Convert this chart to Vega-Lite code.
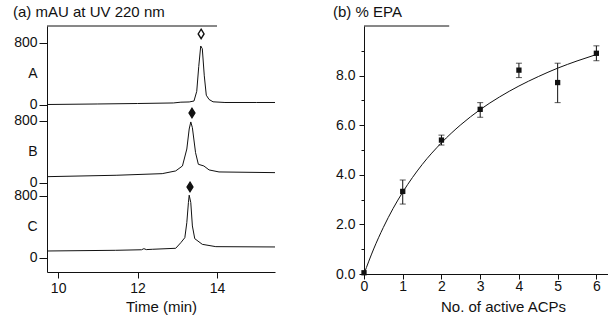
{
  "$schema": "https://vega.github.io/schema/vega-lite/v6.json",
  "padding": {"left": 13, "top": 4, "right": 0, "bottom": 2},
  "background": "white",
  "config": {
    "font": "Liberation Sans",
    "view": {"stroke": null},
    "axis": {"grid": false, "domainColor": "#111", "tickColor": "#111", "labelColor": "#111", "titleColor": "#111", "labelFontSize": 14, "titleFontSize": 15, "titleFontWeight": "normal", "tickSize": 8, "labelPadding": 2, "labelBound": false, "labelFlush": false, "labelOverlap": false},
    "title": {"fontSize": 15, "fontWeight": "normal", "color": "#111", "anchor": "start", "frame": "group"}
  },
  "hconcat": [
    {
      "width": 228,
      "height": 246,
      "title": {"text": "(a)  mAU at UV 220 nm", "dx": -34, "offset": 6, "frame": "group"},
      "layer": [
        {
          "data": {"values": [
            {"t": 9.72, "v": 1980, "trace": "A"}, {"t": 11.0, "v": 1987, "trace": "A"}, {"t": 12.0, "v": 1993, "trace": "A"}, {"t": 12.9, "v": 2000, "trace": "A"}, {"t": 13.09, "v": 2010, "trace": "A"}, {"t": 13.3, "v": 2013, "trace": "A"}, {"t": 13.42, "v": 2025, "trace": "A"}, {"t": 13.49, "v": 2150, "trace": "A"}, {"t": 13.54, "v": 2470, "trace": "A"}, {"t": 13.59, "v": 2735, "trace": "A"}, {"t": 13.63, "v": 2700, "trace": "A"}, {"t": 13.68, "v": 2350, "trace": "A"}, {"t": 13.73, "v": 2100, "trace": "A"}, {"t": 13.8, "v": 2045, "trace": "A"}, {"t": 13.9, "v": 2015, "trace": "A"}, {"t": 14.2, "v": 2006, "trace": "A"}, {"t": 15.0, "v": 2006, "trace": "A"}, {"t": 15.46, "v": 2006, "trace": "A"},
            {"t": 9.72, "v": 1049, "trace": "B"}, {"t": 11.46, "v": 1067, "trace": "B"}, {"t": 12.62, "v": 1088, "trace": "B"}, {"t": 12.96, "v": 1123, "trace": "B"}, {"t": 13.13, "v": 1187, "trace": "B"}, {"t": 13.24, "v": 1406, "trace": "B"}, {"t": 13.3, "v": 1664, "trace": "B"}, {"t": 13.34, "v": 1755, "trace": "B"}, {"t": 13.38, "v": 1681, "trace": "B"}, {"t": 13.46, "v": 1359, "trace": "B"}, {"t": 13.53, "v": 1209, "trace": "B"}, {"t": 13.67, "v": 1187, "trace": "B"}, {"t": 13.8, "v": 1136, "trace": "B"}, {"t": 14.05, "v": 1110, "trace": "B"}, {"t": 15.46, "v": 1101, "trace": "B"},
            {"t": 9.72, "v": 90, "trace": "C"}, {"t": 11.45, "v": 99, "trace": "C"}, {"t": 12.1, "v": 106, "trace": "C"}, {"t": 12.16, "v": 120, "trace": "C"}, {"t": 12.22, "v": 108, "trace": "C"}, {"t": 12.37, "v": 112, "trace": "C"}, {"t": 12.96, "v": 125, "trace": "C"}, {"t": 13.09, "v": 198, "trace": "C"}, {"t": 13.19, "v": 262, "trace": "C"}, {"t": 13.24, "v": 456, "trace": "C"}, {"t": 13.28, "v": 714, "trace": "C"}, {"t": 13.3, "v": 810, "trace": "C"}, {"t": 13.34, "v": 714, "trace": "C"}, {"t": 13.38, "v": 413, "trace": "C"}, {"t": 13.44, "v": 249, "trace": "C"}, {"t": 13.63, "v": 176, "trace": "C"}, {"t": 13.97, "v": 146, "trace": "C"}, {"t": 15.46, "v": 142, "trace": "C"}
          ]},
          "mark": {"type": "line", "color": "#111", "strokeWidth": 1, "clip": true},
          "encoding": {
            "x": {"field": "t", "type": "quantitative", "scale": {"domain": [9.72, 15.46], "nice": false}, "axis": {"values": [10, 12, 14], "tickCount": 30, "format": "d", "tickSize": 6, "labelPadding": 3, "title": "Time (min)", "titlePadding": 4}},
            "y": {"field": "v", "type": "quantitative", "scale": {"domain": [-181, 2993], "nice": false}, "axis": {
              "values": [0, 400, 800, 968, 1368, 1768, 1974, 2374, 2774],
              "tickCount": 30,
              "labelExpr": "datum.value == 400 ? 'C' : datum.value == 1368 ? 'B' : datum.value == 2374 ? 'A' : (datum.value == 0 || datum.value == 968 || datum.value == 1974) ? '0' : '800'",
              "tickOpacity": {"condition": {"test": "datum.value == 400 || datum.value == 1368 || datum.value == 2374", "value": 0}, "value": 1},
              "title": null}},
            "detail": {"field": "trace", "type": "nominal"}
          }
        },
        {
          "data": {"values": [
            {"t": 13.6, "v": 2890, "marker": "open"},
            {"t": 13.37, "v": 1870, "marker": "filled"},
            {"t": 13.32, "v": 916, "marker": "filled"}
          ]},
          "mark": {"type": "point", "shape": "M0,-1L0.62,0L0,1L-0.62,0Z", "size": 90, "stroke": "#111", "strokeWidth": 1.4, "opacity": 1, "filled": true},
          "encoding": {
            "x": {"field": "t", "type": "quantitative"},
            "y": {"field": "v", "type": "quantitative"},
            "fill": {"field": "marker", "type": "nominal", "scale": {"domain": ["open", "filled"], "range": ["white", "#111"]}, "legend": null}
          }
        },
        {
          "data": {"values": [{"t1": 9.72, "t2": 14.0, "v": 2993}]},
          "mark": {"type": "rule", "color": "#111", "strokeWidth": 1},
          "encoding": {
            "x": {"field": "t1", "type": "quantitative"},
            "x2": {"field": "t2"},
            "y": {"field": "v", "type": "quantitative"}
          }
        }
      ]
    },
    {
      "width": 244,
      "height": 248,
      "title": {"text": "(b) % EPA", "dx": -31, "offset": 6, "frame": "group"},
      "layer": [
        {
          "data": {"values": [
            {"n": 0, "pct": 0}, {"n": 0.25, "pct": 1.01}, {"n": 0.5, "pct": 1.88}, {"n": 0.75, "pct": 2.64}, {"n": 1, "pct": 3.3}, {"n": 1.5, "pct": 4.41}, {"n": 2, "pct": 5.29}, {"n": 2.5, "pct": 6.02}, {"n": 3, "pct": 6.63}, {"n": 3.5, "pct": 7.14}, {"n": 4, "pct": 7.58}, {"n": 4.5, "pct": 7.96}, {"n": 5, "pct": 8.3}, {"n": 5.5, "pct": 8.59}, {"n": 6, "pct": 8.85}
          ]},
          "mark": {"type": "line", "color": "#111", "strokeWidth": 1, "interpolate": "monotone"},
          "encoding": {
            "x": {"field": "n", "type": "quantitative", "scale": {"domain": [0, 6.3], "nice": false}, "axis": {
              "values": [0, 0.5, 1, 1.5, 2, 2.5, 3, 3.5, 4, 4.5, 5, 5.5, 6],
              "tickCount": 30,
              "format": "d",
              "labelExpr": "datum.value % 1 == 0 ? datum.label : ''",
              "tickSize": {"condition": {"test": "datum.value % 1 == 0", "value": 5}, "value": 3},
              "labelPadding": 0,
              "title": "No. of active ACPs", "titlePadding": 6, "titleX": 139}},
            "y": {"field": "pct", "type": "quantitative", "scale": {"domain": [0, 10], "nice": false}, "axis": {
              "values": [0, 1, 2, 3, 4, 5, 6, 7, 8, 9],
              "tickCount": 30,
              "format": ".1f",
              "labelExpr": "datum.value % 2 == 0 ? datum.label : ''",
              "tickSize": {"condition": {"test": "datum.value % 2 == 0", "value": 5}, "value": 3},
              "labelPadding": 4,
              "title": null}}
          }
        },
        {
          "data": {"name": "pts"},
          "transform": [{"filter": "datum.lo != null"}],
          "layer": [
            {
              "mark": {"type": "rule", "color": "#111", "strokeWidth": 1},
              "encoding": {
                "x": {"field": "n", "type": "quantitative"},
                "y": {"field": "lo", "type": "quantitative"},
                "y2": {"field": "hi"}
              }
            },
            {
              "mark": {"type": "tick", "orient": "horizontal", "color": "#111", "size": 6, "thickness": 1},
              "encoding": {
                "x": {"field": "n", "type": "quantitative"},
                "y": {"field": "lo", "type": "quantitative"}
              }
            },
            {
              "mark": {"type": "tick", "orient": "horizontal", "color": "#111", "size": 6, "thickness": 1},
              "encoding": {
                "x": {"field": "n", "type": "quantitative"},
                "y": {"field": "hi", "type": "quantitative"}
              }
            }
          ]
        },
        {
          "data": {"name": "pts"},
          "mark": {"type": "point", "shape": "square", "filled": true, "size": 28, "color": "#111", "opacity": 1},
          "encoding": {
            "x": {"field": "n", "type": "quantitative"},
            "y": {"field": "pct", "type": "quantitative"}
          }
        },
        {
          "data": {"values": [{"a": 0, "b": 2.2, "y": 10}]},
          "mark": {"type": "rule", "color": "#111", "strokeWidth": 1},
          "encoding": {
            "x": {"field": "a", "type": "quantitative"},
            "x2": {"field": "b"},
            "y": {"field": "y", "type": "quantitative"}
          }
        }
      ]
    }
  ],
  "spacing": 58,
  "datasets": {
    "pts": [
      {"n": 0, "pct": 0.05, "lo": null, "hi": null},
      {"n": 1, "pct": 3.33, "lo": 2.82, "hi": 3.79},
      {"n": 2, "pct": 5.4, "lo": 5.2, "hi": 5.6},
      {"n": 3, "pct": 6.64, "lo": 6.32, "hi": 6.91},
      {"n": 4, "pct": 8.22, "lo": 7.92, "hi": 8.5},
      {"n": 5, "pct": 7.72, "lo": 6.91, "hi": 8.5},
      {"n": 6, "pct": 8.9, "lo": 8.6, "hi": 9.2}
    ]
  }
}
